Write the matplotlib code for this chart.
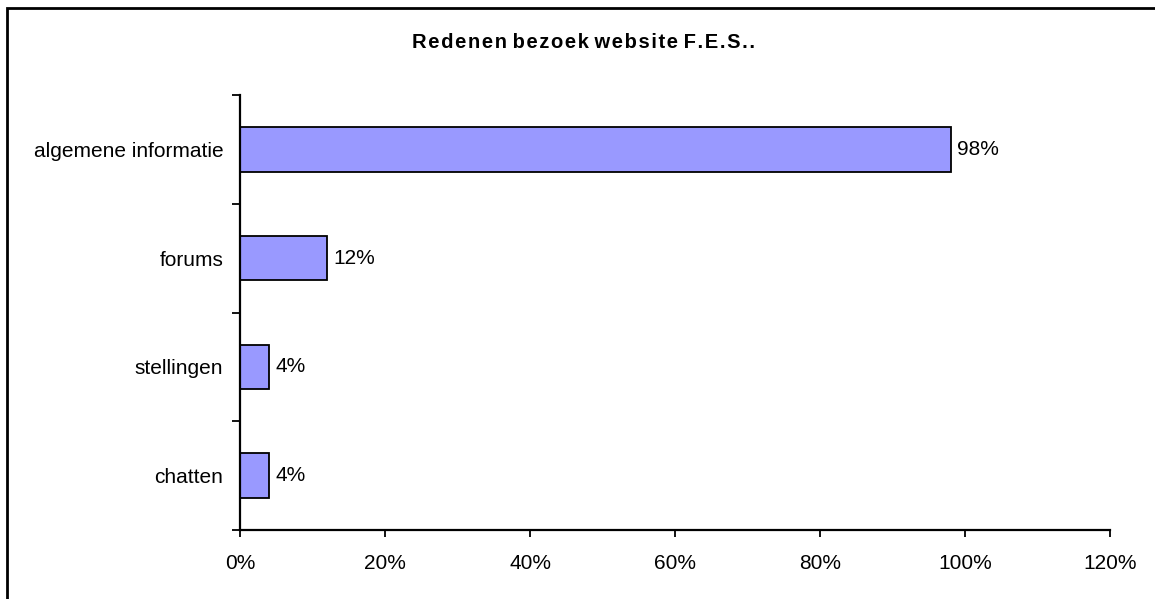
import matplotlib.pyplot as plt
from matplotlib.patches import Rectangle
from matplotlib.ticker import FuncFormatter, MultipleLocator

plt.rcParams['font.family'] = ['Liberation Sans', 'DejaVu Sans']

# redenen bezoek, van onder naar boven
categories = ['chatten', 'stellingen', 'forums', 'algemene informatie']
percentages = [4, 4, 12, 98]
title = 'Redenen bezoek website F.E.S..'

fig = plt.figure(figsize=(11.55, 5.99), dpi=100)
ax = fig.add_axes([240 / 1155, 1 - 530 / 599, 870 / 1155, 435 / 599])

pos = range(len(categories))
bars = ax.barh(pos, percentages, height=0.41, color='#9999FF',
               edgecolor='black', linewidth=1.3)
for b, v in zip(bars, percentages):
    ax.text(b.get_width() + 0.9, b.get_y() + b.get_height() / 2, '%d%%' % v,
            va='center', ha='left', fontsize=15)

ax.set_xlim(0, 120)
ax.set_ylim(-0.5, len(categories) - 0.5)
ax.xaxis.set_major_locator(MultipleLocator(20))
ax.xaxis.set_major_formatter(FuncFormatter(lambda x, p: '%d%%' % x))

# category labels sit between the tick marks
ax.set_yticks([i - 0.5 for i in range(len(categories) + 1)])
ax.set_yticklabels([])
ax.set_yticks(list(pos), minor=True)
ax.set_yticklabels(categories, minor=True, fontsize=15)
ax.tick_params(axis='y', which='minor', length=0, pad=12)
ax.tick_params(axis='y', which='major', length=6, width=1.3, direction='out')
ax.tick_params(axis='x', length=5, width=1.3, direction='out', labelsize=15, pad=12)

for s in ['top', 'right']:
    ax.spines[s].set_visible(False)
for s in ['left', 'bottom']:
    ax.spines[s].set_linewidth(1.6)

# wide letter spacing in the title
spaced = '\u200a'.join(title).replace('\u200a \u200a', ' ')
fig.text(583 / 1155, 1 - 43 / 599, spaced, ha='center', va='center',
         fontsize=14.5, fontweight='bold')

# chart frame
fig.patches.append(Rectangle((7 / 1155, -0.1), 1.2, 1 - 8 / 599 + 0.1,
                             transform=fig.transFigure, fill=False,
                             edgecolor='black', linewidth=2))

fig.savefig('out.png', dpi=100)
